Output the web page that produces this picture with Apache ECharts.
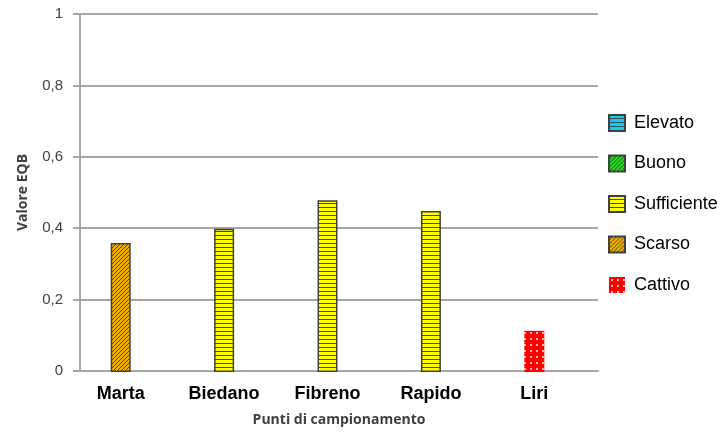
<!DOCTYPE html>
<html>
<head>
<meta charset="utf-8">
<script src="https://cdn.jsdelivr.net/npm/echarts@6/dist/echarts.min.js"></script>
<style>
  html, body { margin: 0; padding: 0; background: #fff; }
  #chart { width: 728px; height: 432px; }
</style>
</head>
<body>
<div id="chart"></div>
<script>
(function () {
  var categories = ['Marta', 'Biedano', 'Fibreno', 'Rapido', 'Liri'];
  var values = [0.36, 0.40, 0.48, 0.45, 0.115]; // valore EQB per punto
  var classes = ['Scarso', 'Sufficiente', 'Sufficiente', 'Sufficiente', 'Cattivo'];
  var classNames = ['Elevato', 'Buono', 'Sufficiente', 'Scarso', 'Cattivo'];
  var yTicks = [0, 0.2, 0.4, 0.6, 0.8, 1];

  // riempimenti a trama, come nel grafico Excel
  function pattern(size, draw) {
    var c = document.createElement('canvas');
    c.width = size; c.height = size;
    draw(c.getContext('2d'));
    return { image: c, repeat: 'repeat' };
  }
  function hStripes(bg, fg) {
    return pattern(4, function (ctx) {
      ctx.fillStyle = bg; ctx.fillRect(0, 0, 4, 4);
      ctx.fillStyle = fg; ctx.fillRect(0, 3, 4, 1);
    });
  }
  function diag(bg, fg) {
    return pattern(4, function (ctx) {
      ctx.fillStyle = bg; ctx.fillRect(0, 0, 4, 4);
      ctx.fillStyle = fg;
      for (var i = 0; i < 4; i++) ctx.fillRect(i, 3 - i, 1, 1);
    });
  }
  function dots(bg, fg) {
    return pattern(6, function (ctx) {
      ctx.fillStyle = bg; ctx.fillRect(0, 0, 6, 6);
      ctx.fillStyle = fg; ctx.fillRect(2, 2, 2, 2);
    });
  }

  var fills = {
    'Elevato': { color: hStripes('#19c8e8', '#2a5560'), borderColor: '#404040', borderWidth: 1.5 },
    'Buono': { color: diag('#22dd22', '#1a4a1a'), borderColor: '#404040', borderWidth: 1.5 },
    'Sufficiente': { color: hStripes('#ffff00', '#4a4a20'), borderColor: '#404040', borderWidth: 1.5 },
    'Scarso': { color: diag('#f0b000', '#5a4010'), borderColor: '#404040', borderWidth: 1.5 },
    'Cattivo': { color: dots('#ff0000', '#ffb4b4'), borderColor: '#ff2020', borderWidth: 0 }
  };

  var series = classNames.map(function (name) {
    return {
      name: name,
      type: 'bar',
      stack: 'all',
      xAxisIndex: 1,
      yAxisIndex: 1,
      barWidth: 20,
      itemStyle: fills[name],
      data: values.map(function (v, i) { return classes[i] === name ? v : '-'; })
    };
  });

  var myChart = echarts.init(document.getElementById('chart'));
  var gray = '#a6a6a6';
  var option = {
    animation: false,
    grid: [
      { left: 80, right: 130, top: 14, bottom: 60 },
      { left: 69, right: 142, top: 14, bottom: 60 }
    ],
    legend: {
      orient: 'vertical',
      left: 603,
      top: 109,
      icon: 'rect',
      itemWidth: 16,
      itemHeight: 16,
      itemGap: 22.5,
      data: classNames,
      textStyle: {
        fontFamily: 'Liberation Sans, Arial, sans-serif',
        fontSize: 18,
        color: '#000',
        lineHeight: 18,
        padding: [0, 0, 0, 4]
      }
    },
    xAxis: [{
      type: 'category',
      gridIndex: 0,
      data: categories,
      name: 'Punti di campionamento',
      nameLocation: 'middle',
      nameGap: 42,
      nameTextStyle: { fontFamily: 'Open Sans, sans-serif', fontWeight: 'bold', fontSize: 14, color: '#404040' },
      axisLine: { lineStyle: { color: gray, width: 2 } },
      axisTick: { show: false },
      axisLabel: { show: false }
    }, {
      type: 'category',
      gridIndex: 1,
      data: categories,
      axisLine: { show: false },
      axisTick: { show: false },
      axisLabel: {
        margin: 13,
        fontFamily: 'Liberation Sans, Arial, sans-serif',
        fontWeight: 'bold',
        fontSize: 18,
        color: '#000'
      }
    }],
    yAxis: [{
      type: 'value',
      gridIndex: 0,
      min: yTicks[0],
      max: yTicks[yTicks.length - 1],
      interval: 0.2,
      name: 'Valore EQB',
      nameLocation: 'middle',
      nameGap: 50,
      nameTextStyle: { fontFamily: 'Open Sans, sans-serif', fontWeight: 'bold', fontSize: 14, color: '#404040' },
      axisLine: { show: true, lineStyle: { color: gray, width: 2 } },
      axisTick: { show: true, length: 7, lineStyle: { color: gray, width: 2 } },
      splitLine: { lineStyle: { color: gray, width: 2 } },
      axisLabel: {
        margin: 17,
        fontFamily: 'Liberation Sans, Arial, sans-serif',
        fontSize: 15,
        color: '#404040',
        formatter: function (v) { return String(Math.round(v * 10) / 10).replace('.', ','); }
      }
    }, {
      type: 'value',
      gridIndex: 1,
      min: 0,
      max: 1,
      show: false
    }],
    series: series
  };
  myChart.setOption(option);
  window.addEventListener('resize', function () { myChart.resize(); });
})();
</script>
</body>
</html>
